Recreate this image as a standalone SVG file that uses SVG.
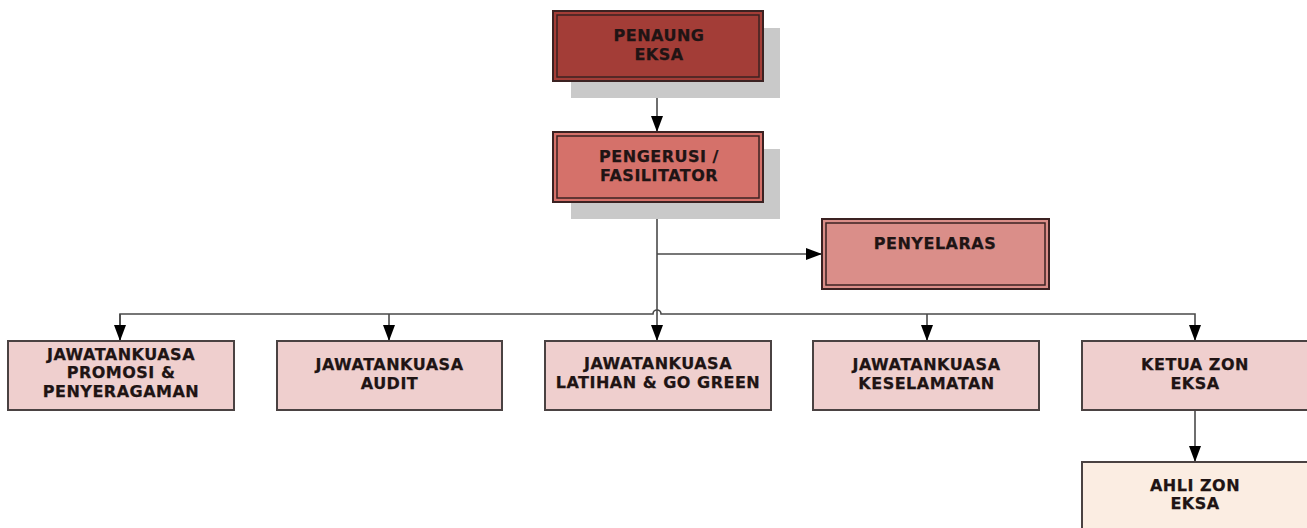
<svg xmlns="http://www.w3.org/2000/svg" width="1307" height="528" viewBox="0 0 1307 528">
  <defs>
    <style>
      .t { font-family: "DejaVu Sans", Verdana, sans-serif; font-weight: bold; font-size: 16px; fill: #201414; stroke: #201414; stroke-width: 0.25px; text-anchor: middle; letter-spacing: 0.5px; }
      .shadow { fill: #c9c9c9; }
      .outer { stroke: #3b2222; stroke-width: 2; }
      .inner { fill: none; stroke: #3b2222; stroke-width: 1.5; }
      .box { stroke: #4a4242; stroke-width: 2; }
      .conn { fill: none; stroke: #4a4a4a; stroke-width: 1.6; }
    </style>
    <marker id="arr" viewBox="0 0 16 12" refX="16" refY="6" markerWidth="16" markerHeight="12" markerUnits="userSpaceOnUse" orient="auto">
      <path d="M0,0 L16,6 L0,12 Z" fill="#000"/>
    </marker>
  </defs>

  <g id="connectors">
    <line class="conn" x1="657" y1="81" x2="657" y2="132" stroke="#111" stroke-width="2.2" marker-end="url(#arr)"/>
    <line class="conn" x1="657" y1="202" x2="657" y2="341" stroke="#6a6a6a" marker-end="url(#arr)"/>
    <line class="conn" x1="657" y1="254" x2="822" y2="254" marker-end="url(#arr)"/>
    <path class="conn" d="M120,341 V314 H653 A4,4 0 0 1 661,314 H1195 V341" marker-end="url(#arr)"/>
    <line class="conn" x1="120" y1="314" x2="120" y2="341" marker-end="url(#arr)"/>
    <line class="conn" x1="389" y1="314" x2="389" y2="341" marker-end="url(#arr)"/>
    <line class="conn" x1="927" y1="314" x2="927" y2="341" marker-end="url(#arr)"/>
    <line class="conn" x1="1195" y1="410" x2="1195" y2="462" stroke="#222" stroke-width="2" marker-end="url(#arr)"/>
  </g>

  <g id="penaung">
    <rect class="shadow" x="571" y="28" width="209" height="70"/>
    <rect class="outer" x="553" y="11" width="210" height="70" fill="#a33d37"/>
    <rect class="inner" x="557" y="15" width="202" height="62"/>
    <text class="t" x="659" y="40.5">PENAUNG</text>
    <text class="t" x="659" y="59.5">EKSA</text>
  </g>

  <g id="pengerusi">
    <rect class="shadow" x="571" y="149" width="209" height="70"/>
    <rect class="outer" x="553" y="132" width="210" height="70" fill="#d5716a"/>
    <rect class="inner" x="557" y="136" width="202" height="62"/>
    <text class="t" x="659" y="162">PENGERUSI /</text>
    <text class="t" x="659" y="181">FASILITATOR</text>
  </g>

  <g id="penyelaras">
    <rect class="outer" x="822" y="219" width="227" height="70" fill="#da8e89" stroke="#4a3434"/>
    <rect class="inner" x="826" y="223" width="219" height="62" stroke="#4a3434"/>
    <text class="t" x="935" y="248.5">PENYELARAS</text>
  </g>

  <g id="jk-promosi">
    <rect class="box" x="8" y="341" width="226" height="69" fill="#efcfce"/>
    <text class="t" x="121" y="359.5">JAWATANKUASA</text>
    <text class="t" x="121" y="378">PROMOSI &amp;</text>
    <text class="t" x="121" y="396.5">PENYERAGAMAN</text>
  </g>

  <g id="jk-audit">
    <rect class="box" x="277" y="341" width="225" height="69" fill="#efcfce"/>
    <text class="t" x="389.5" y="370">JAWATANKUASA</text>
    <text class="t" x="389.5" y="388.5">AUDIT</text>
  </g>

  <g id="jk-latihan">
    <rect class="box" x="545" y="341" width="226" height="69" fill="#efcfce"/>
    <text class="t" x="658" y="369">JAWATANKUASA</text>
    <text class="t" x="658" y="387.5">LATIHAN &amp; GO GREEN</text>
  </g>

  <g id="jk-keselamatan">
    <rect class="box" x="813" y="341" width="226" height="69" fill="#efcfce"/>
    <text class="t" x="926.5" y="370">JAWATANKUASA</text>
    <text class="t" x="926.5" y="388.5">KESELAMATAN</text>
  </g>

  <g id="ketua-zon">
    <rect class="box" x="1082" y="341" width="226" height="69" fill="#efcfce"/>
    <text class="t" x="1195" y="370">KETUA ZON</text>
    <text class="t" x="1195" y="388.5">EKSA</text>
  </g>

  <g id="ahli-zon">
    <rect class="box" x="1082" y="462" width="226" height="70" fill="#fbede2"/>
    <text class="t" x="1195" y="490.5">AHLI ZON</text>
    <text class="t" x="1195" y="509">EKSA</text>
  </g>
</svg>
